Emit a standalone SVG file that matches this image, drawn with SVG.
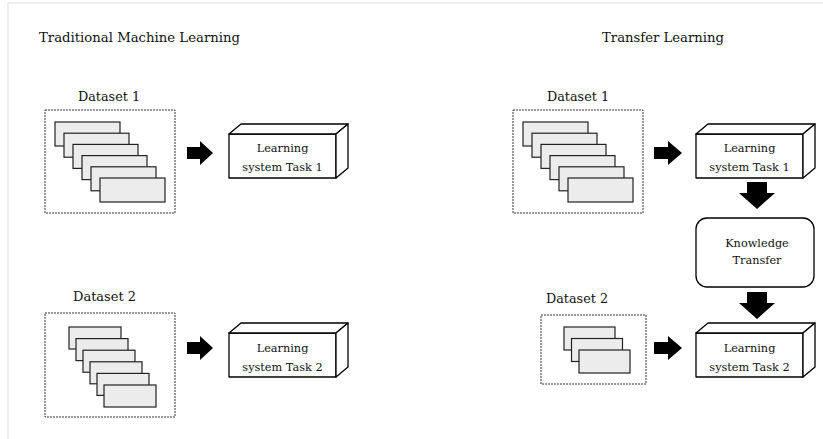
<svg xmlns="http://www.w3.org/2000/svg" width="823" height="439" viewBox="0 0 823 439">
<defs>
<style>
.t{font-family:"DejaVu Serif","Liberation Serif",serif;fill:#111}
.title{font-size:13px}
.lbl{font-size:13px}
.small{font-size:11.3px}
.ds{fill:none;stroke:#333;stroke-width:1;stroke-dasharray:2 1}
.card{fill:#ececec;stroke:#222;stroke-width:1.2}
.box{fill:#fff;stroke:#000;stroke-width:1.3;stroke-linejoin:round}
.arr{fill:#000}
</style>
</defs>
<rect width="823" height="439" fill="#fff"/>
<path d="M8 439V3H823" fill="none" stroke="#ddd" stroke-width="1"/>
<text class="t title" x="39" y="42" textLength="201" lengthAdjust="spacingAndGlyphs">Traditional Machine Learning</text>
<text class="t title" x="602" y="42" textLength="122" lengthAdjust="spacingAndGlyphs">Transfer Learning</text>

<g id="dataset1-left">
<text class="t lbl" x="78" y="101" textLength="62" lengthAdjust="spacingAndGlyphs">Dataset 1</text>
<rect class="ds" x="45" y="110" width="130" height="103"/>
<rect class="card" x="55" y="122" width="65" height="24"/>
<rect class="card" x="64" y="133.2" width="65" height="24"/>
<rect class="card" x="73" y="144.4" width="65" height="24"/>
<rect class="card" x="82" y="155.6" width="65" height="24"/>
<rect class="card" x="91" y="166.8" width="65" height="24"/>
<rect class="card" x="100" y="178" width="65" height="24"/>
</g>

<g id="dataset2-left">
<text class="t lbl" x="73" y="301" textLength="63" lengthAdjust="spacingAndGlyphs">Dataset 2</text>
<rect class="ds" x="45" y="313" width="130" height="104"/>
<rect class="card" x="69" y="327" width="52" height="22"/>
<rect class="card" x="76" y="338.6" width="52" height="22"/>
<rect class="card" x="83" y="350.2" width="52" height="22"/>
<rect class="card" x="90" y="361.8" width="52" height="22"/>
<rect class="card" x="97" y="373.4" width="52" height="22"/>
<rect class="card" x="104" y="385" width="52" height="22"/>
</g>

<g id="learning1-left">
<rect class="box" x="229" y="134" width="107" height="44"/>
<path class="box" d="M229 134L241 124H348L336 134Z"/>
<path class="box" d="M336 134L348 124V168L336 178Z"/>
<text class="t small" x="282.5" y="152" text-anchor="middle">Learning</text>
<text class="t small" x="282.5" y="171" text-anchor="middle">system Task 1</text>
</g>

<g id="learning2-left">
<rect class="box" x="229" y="333" width="107" height="44"/>
<path class="box" d="M229 333L241 323H348L336 333Z"/>
<path class="box" d="M336 333L348 323V367L336 377Z"/>
<text class="t small" x="282.5" y="352" text-anchor="middle">Learning</text>
<text class="t small" x="282.5" y="371" text-anchor="middle">system Task 2</text>
</g>

<g id="dataset1-right">
<text class="t lbl" x="547" y="101" textLength="62" lengthAdjust="spacingAndGlyphs">Dataset 1</text>
<rect class="ds" x="513" y="110" width="130" height="103"/>
<rect class="card" x="523" y="122" width="65" height="24"/>
<rect class="card" x="532" y="133.2" width="65" height="24"/>
<rect class="card" x="541" y="144.4" width="65" height="24"/>
<rect class="card" x="550" y="155.6" width="65" height="24"/>
<rect class="card" x="559" y="166.8" width="65" height="24"/>
<rect class="card" x="568" y="178" width="65" height="24"/>
</g>

<g id="dataset2-right">
<text class="t lbl" x="546" y="303" textLength="62" lengthAdjust="spacingAndGlyphs">Dataset 2</text>
<rect class="ds" x="541" y="315" width="105" height="69"/>
<rect class="card" x="564" y="327" width="51" height="23"/>
<rect class="card" x="571.5" y="338.5" width="51" height="23"/>
<rect class="card" x="579" y="350" width="51" height="23"/>
</g>

<g id="learning1-right">
<rect class="box" x="696" y="134" width="107" height="44"/>
<path class="box" d="M696 134L708 124H815L803 134Z"/>
<path class="box" d="M803 134L815 124V168L803 178Z"/>
<text class="t small" x="749.5" y="152" text-anchor="middle">Learning</text>
<text class="t small" x="749.5" y="171" text-anchor="middle">system Task 1</text>
</g>

<g id="knowledge-transfer">
<rect class="box" x="696" y="218" width="118" height="69" rx="11"/>
<text class="t small" x="757" y="247" text-anchor="middle">Knowledge</text>
<text class="t small" x="757" y="264" text-anchor="middle">Transfer</text>
</g>

<g id="learning2-right">
<rect class="box" x="696" y="333" width="107" height="44"/>
<path class="box" d="M696 333L708 323H815L803 333Z"/>
<path class="box" d="M803 333L815 323V367L803 377Z"/>
<text class="t small" x="749.5" y="352" text-anchor="middle">Learning</text>
<text class="t small" x="749.5" y="371" text-anchor="middle">system Task 2</text>
</g>

<g id="connectors">
<path class="arr" d="M187 147H200V141L213 153L200 165V159H187Z"/>
<path class="arr" d="M187 342H200V336L213 348L200 360V354H187Z"/>
<path class="arr" d="M654 147H668V141L682 153L668 165V159H654Z"/>
<path class="arr" d="M654 342H668V336L682 348L668 360V354H654Z"/>
<path class="arr" d="M747 182H767V193H775L757 209L739 193H747Z"/>
<path class="arr" d="M747 292H767V303H775L757 319L739 303H747Z"/>
</g>
</svg>
